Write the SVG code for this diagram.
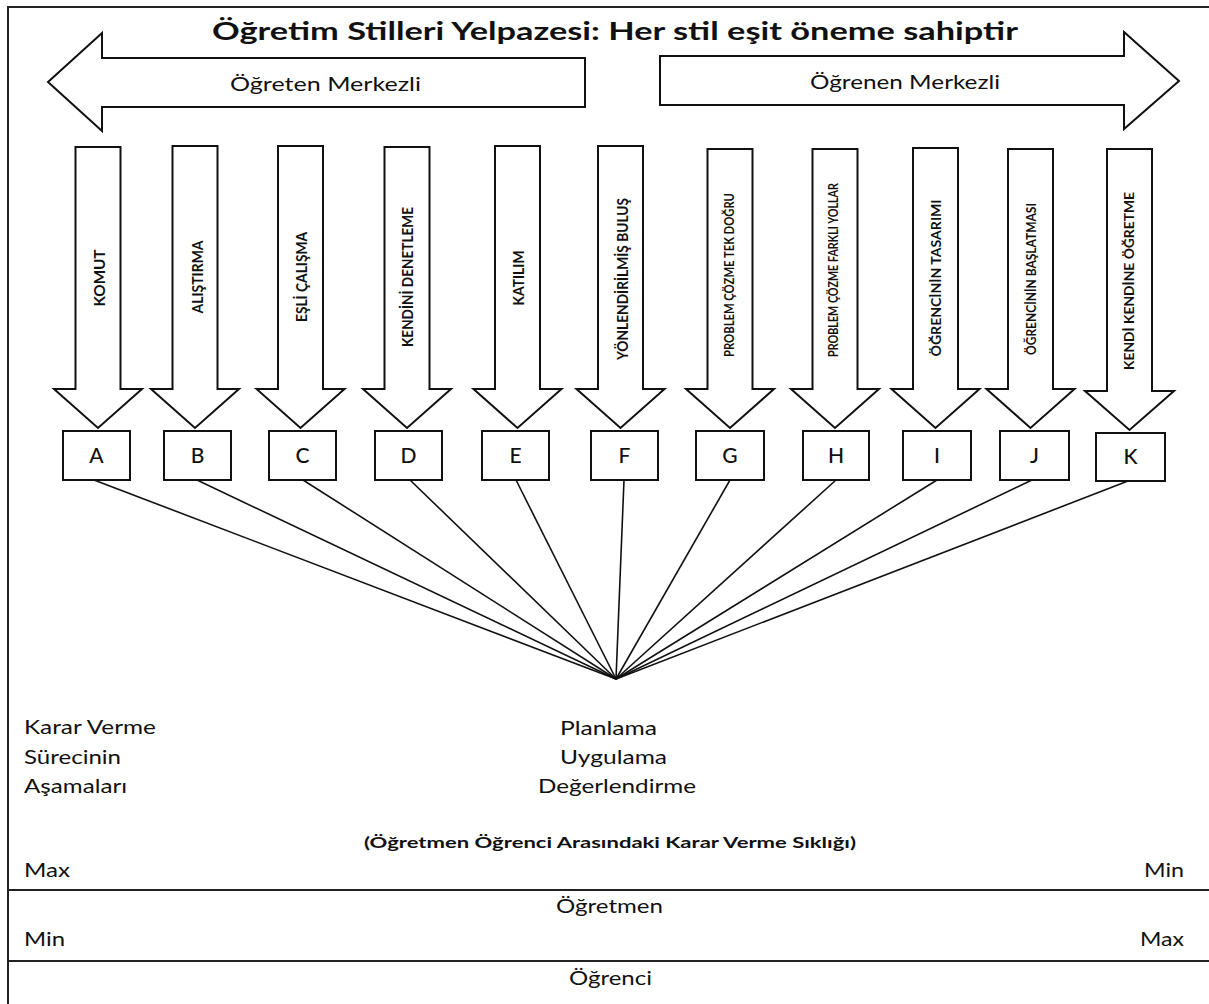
<svg xmlns="http://www.w3.org/2000/svg" width="1209" height="1004" viewBox="0 0 1209 1004">
<style>
  .frame { fill: none; stroke: #222; stroke-width: 2; }
  .shape { fill: #fff; stroke: #111; stroke-width: 2; stroke-linejoin: miter; }
  .box { fill: #fff; stroke: #111; stroke-width: 2; }
  .conn { stroke: #111; stroke-width: 1.6; fill: none; }
  .title { font-family: Lato, "Open Sans", "Noto Sans", sans-serif; font-weight: 700; font-size: 25px; fill: #111; }
  .big { font-family: Lato, "Open Sans", "Noto Sans", sans-serif; font-size: 19px; fill: #111; }
  .bold { font-family: Lato, "Open Sans", "Noto Sans", sans-serif; font-weight: 700; font-size: 16px; fill: #111; }
  .vlab { font-family: Lato, "Open Sans", "Noto Sans", sans-serif; font-weight: 700; fill: #111; text-anchor: middle; }
  .letter { font-family: Lato, "Open Sans", "Noto Sans", sans-serif; font-size: 21px; font-weight: 500; fill: #111; text-anchor: middle; }
</style>

<g id="frame">
  <polyline class="frame" points="8,1004 8,7 1209,7"/>
  <line class="frame" x1="8" y1="890" x2="1209" y2="890"/>
  <line class="frame" x1="8" y1="961" x2="1209" y2="961"/>
</g>

<g id="title">
  <text class="title" x="212" y="40" textLength="806" lengthAdjust="spacingAndGlyphs">Öğretim Stilleri Yelpazesi: Her stil eşit öneme sahiptir</text>
</g>

<g id="teacher-centered">
  <polygon class="shape" points="48,82 102,33 102,58 585,58 585,107 102,107 102,131"/>
  <text class="big" x="230" y="91" textLength="191" lengthAdjust="spacingAndGlyphs">Öğreten Merkezli</text>
</g>

<g id="learner-centered">
  <polygon class="shape" points="1179,81 1124,32 1124,56 660,56 660,105 1124,105 1124,129"/>
  <text class="big" x="810" y="89" textLength="190" lengthAdjust="spacingAndGlyphs">Öğrenen Merkezli</text>
</g>

<g id="connectors">
  <line class="conn" x1="94" y1="480" x2="616" y2="679"/>
  <line class="conn" x1="197" y1="480" x2="616" y2="679"/>
  <line class="conn" x1="303" y1="480" x2="616" y2="679"/>
  <line class="conn" x1="410" y1="480" x2="616" y2="679"/>
  <line class="conn" x1="516" y1="480" x2="616" y2="679"/>
  <line class="conn" x1="624" y1="480" x2="616" y2="679"/>
  <line class="conn" x1="730" y1="480" x2="616" y2="679"/>
  <line class="conn" x1="836" y1="480" x2="616" y2="679"/>
  <line class="conn" x1="937" y1="480" x2="616" y2="679"/>
  <line class="conn" x1="1032" y1="480" x2="616" y2="679"/>
  <line class="conn" x1="1128" y1="481" x2="616" y2="679"/>
</g>

<g id="style-A">
  <polygon class="shape" points="75.5,147 120.5,147 120.5,389 142,389 98,428 54,389 75.5,389"/>
  <text class="vlab" transform="translate(99,278) rotate(-90)" dy="5.5" font-size="16" textLength="57" lengthAdjust="spacingAndGlyphs">KOMUT</text>
  <rect class="box" x="63" y="431" width="67" height="49"/>
  <text class="letter" x="96.5" y="463">A</text>
</g>

<g id="style-B">
  <polygon class="shape" points="172.5,146 217.5,146 217.5,389 239,389 195,428 151,389 172.5,389"/>
  <text class="vlab" transform="translate(197,277) rotate(-90)" dy="5.5" font-size="15" textLength="73" lengthAdjust="spacingAndGlyphs">ALIŞTIRMA</text>
  <rect class="box" x="164" y="431" width="67" height="49"/>
  <text class="letter" x="197.5" y="463">B</text>
</g>

<g id="style-C">
  <polygon class="shape" points="278,146 323,146 323,389 344.5,389 300.5,428 256.5,389 278,389"/>
  <text class="vlab" transform="translate(301,277) rotate(-90)" dy="5.5" font-size="15" textLength="90" lengthAdjust="spacingAndGlyphs">EŞLİ ÇALIŞMA</text>
  <rect class="box" x="269" y="431" width="67" height="49"/>
  <text class="letter" x="302.5" y="463">C</text>
</g>

<g id="style-D">
  <polygon class="shape" points="384.5,147 429.5,147 429.5,389 451,389 407,428 363,389 384.5,389"/>
  <text class="vlab" transform="translate(407,277) rotate(-90)" dy="5.5" font-size="15" textLength="140" lengthAdjust="spacingAndGlyphs">KENDİNİ DENETLEME</text>
  <rect class="box" x="375" y="431" width="67" height="49"/>
  <text class="letter" x="408.5" y="463">D</text>
</g>

<g id="style-E">
  <polygon class="shape" points="495,146 540,146 540,389 561.5,389 517.5,428 473.5,389 495,389"/>
  <text class="vlab" transform="translate(518,278) rotate(-90)" dy="5.5" font-size="16" textLength="55" lengthAdjust="spacingAndGlyphs">KATILIM</text>
  <rect class="box" x="482" y="431" width="67" height="49"/>
  <text class="letter" x="515.5" y="463">E</text>
</g>

<g id="style-F">
  <polygon class="shape" points="598,146 643,146 643,389 664.5,389 620.5,428 576.5,389 598,389"/>
  <text class="vlab" transform="translate(622,279) rotate(-90)" dy="5.5" font-size="15" textLength="162" lengthAdjust="spacingAndGlyphs">YÖNLENDİRİLMİŞ BULUŞ</text>
  <rect class="box" x="591" y="431" width="67" height="49"/>
  <text class="letter" x="624.5" y="463">F</text>
</g>

<g id="style-G">
  <polygon class="shape" points="707.5,149 752.5,149 752.5,389 774,389 730,428 686,389 707.5,389"/>
  <text class="vlab" transform="translate(729,275) rotate(-90)" dy="5" font-size="14" textLength="164" lengthAdjust="spacingAndGlyphs">PROBLEM ÇÖZME TEK DOĞRU</text>
  <rect class="box" x="696" y="431" width="68" height="49"/>
  <text class="letter" x="730" y="463">G</text>
</g>

<g id="style-H">
  <polygon class="shape" points="812.5,149 857.5,149 857.5,389 879,389 835,428 791,389 812.5,389"/>
  <text class="vlab" transform="translate(833,270) rotate(-90)" dy="4.5" font-size="13" textLength="174" lengthAdjust="spacingAndGlyphs">PROBLEM ÇÖZME FARKLI YOLLAR</text>
  <rect class="box" x="803" y="431" width="66" height="49"/>
  <text class="letter" x="836" y="463">H</text>
</g>

<g id="style-I">
  <polygon class="shape" points="913,148 958,148 958,389 979.5,389 935.5,428 891.5,389 913,389"/>
  <text class="vlab" transform="translate(936,278) rotate(-90)" dy="5" font-size="14" textLength="157" lengthAdjust="spacingAndGlyphs">ÖĞRENCİNİN TASARIMI</text>
  <rect class="box" x="903" y="431" width="68" height="49"/>
  <text class="letter" x="937" y="463">I</text>
</g>

<g id="style-J">
  <polygon class="shape" points="1008,149 1053,149 1053,389 1074.5,389 1030.5,428 986.5,389 1008,389"/>
  <text class="vlab" transform="translate(1031,279) rotate(-90)" dy="4.5" font-size="13" textLength="152" lengthAdjust="spacingAndGlyphs">ÖĞRENCİNİN BAŞLATMASI</text>
  <rect class="box" x="1000" y="431" width="69" height="49"/>
  <text class="letter" x="1034.5" y="463">J</text>
</g>

<g id="style-K">
  <polygon class="shape" points="1107,149 1152,149 1152,391 1174,391 1129.5,430 1085,391 1107,391"/>
  <text class="vlab" transform="translate(1129,281) rotate(-90)" dy="5" font-size="14" textLength="178" lengthAdjust="spacingAndGlyphs">KENDİ KENDİNE ÖĞRETME</text>
  <rect class="box" x="1096" y="433" width="69" height="48"/>
  <text class="letter" x="1130.5" y="464">K</text>
</g>

<g id="decision-stages">
  <text class="big" x="24" y="734" textLength="132" lengthAdjust="spacingAndGlyphs">Karar Verme</text>
  <text class="big" x="24" y="764" textLength="97" lengthAdjust="spacingAndGlyphs">Sürecinin</text>
  <text class="big" x="24" y="793" textLength="103" lengthAdjust="spacingAndGlyphs">Aşamaları</text>
</g>

<g id="phases">
  <text class="big" x="560" y="735" textLength="97" lengthAdjust="spacingAndGlyphs">Planlama</text>
  <text class="big" x="560" y="764" textLength="107" lengthAdjust="spacingAndGlyphs">Uygulama</text>
  <text class="big" x="538" y="793" textLength="158" lengthAdjust="spacingAndGlyphs">Değerlendirme</text>
</g>

<g id="frequency">
  <text class="bold" x="364" y="848" textLength="492" lengthAdjust="spacingAndGlyphs">(Öğretmen Öğrenci Arasındaki Karar Verme Sıklığı)</text>
  <text class="big" x="24" y="877" textLength="46" lengthAdjust="spacingAndGlyphs">Max</text>
  <text class="big" x="1144" y="877" textLength="40" lengthAdjust="spacingAndGlyphs">Min</text>
</g>

<g id="teacher-row">
  <text class="big" x="556" y="913" textLength="107" lengthAdjust="spacingAndGlyphs">Öğretmen</text>
  <text class="big" x="24" y="946" textLength="41" lengthAdjust="spacingAndGlyphs">Min</text>
  <text class="big" x="1140" y="946" textLength="44" lengthAdjust="spacingAndGlyphs">Max</text>
</g>

<g id="student-row">
  <text class="big" x="569" y="985" textLength="83" lengthAdjust="spacingAndGlyphs">Öğrenci</text>
</g>
</svg>
